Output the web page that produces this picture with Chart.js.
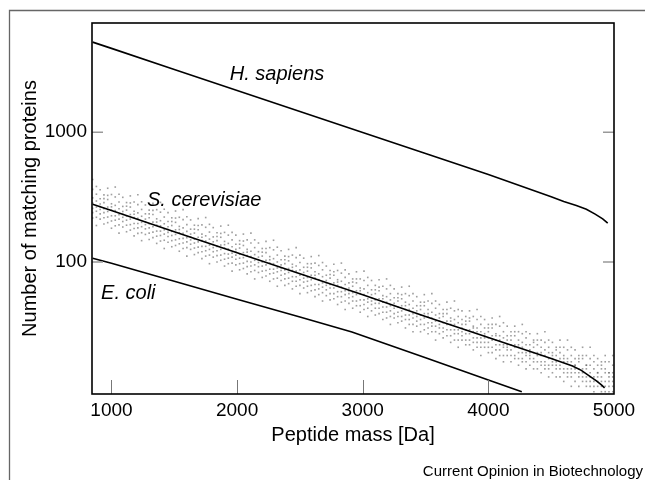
<!DOCTYPE html>
<html>
<head>
<meta charset="utf-8">
<script src="https://cdn.jsdelivr.net/npm/chart.js@4/dist/chart.umd.min.js"></script>
<style>
  html, body { margin: 0; padding: 0; background: #fff; }
  canvas { display: block; }
</style>
</head>
<body>
<canvas id="c" width="645" height="480"></canvas>
<script>
// ---------- data ----------
const massTicks = [1000, 2000, 3000, 4000, 5000];
const countTicks = [100, 1000];
const countTickLabels = ['100', '1000'];

const sapiensMass  = [850, 1000, 1500, 2000, 2500, 3000, 3500, 4000, 4500, 4600, 4700, 4780, 4850, 4910, 4950];
const sapiensCount = [4950, 4430, 3050, 2100, 1445, 995, 686, 472, 318, 292, 272, 255, 234, 215, 199];

const cerevisiaeMass  = [850, 1000, 1500, 2000, 2500, 3000, 3500, 4000, 4500, 4670, 4740, 4800, 4860, 4900, 4925];
const cerevisiaeCount = [279, 249, 171, 118, 81, 56, 38, 26.2, 18, 15.8, 14.6, 13.3, 12.1, 11.3, 10.7];

const coliMass  = [850, 1000, 1500, 2000, 2500, 2914, 3500, 4000, 4266];
const coliCount = [107, 97.7, 71, 51.6, 37.6, 28.9, 18.3, 12.3, 10.0];

// S. cerevisiae individual peptide counts, one row per mass: [mass, count, count, ...]
const cerevisiaeCloud = [
[850,363,312,285,259,240,218,432],[880,333,295,265,246,221,382,191],[910,360,307,280,254,235,214,267],
[940,329,287,258,240,219,196,308],[970,303,265,245,222,201,370,326],[1000,331,281,251,227,207,182,266],
[1030,317,273,249,227,210,190,378],[1060,290,257,231,214,193,333,167],[1090,315,268,245,221,205,186,233],
[1120,287,251,226,210,192,171,269],[1150,265,232,214,194,176,323,285],[1180,290,246,220,198,181,159,233],
[1210,277,239,217,198,183,166,330],[1240,254,225,202,187,168,291,146],[1270,275,235,214,194,180,163,204],
[1300,251,219,197,183,167,149,235],[1330,232,203,187,170,154,283,250],[1360,253,215,192,173,158,139,203],
[1390,242,208,190,173,160,145,288],[1420,222,197,177,164,147,255,127],[1450,240,205,187,169,157,142,178],
[1480,219,191,172,160,146,131,205],[1510,202,177,163,148,134,247,218],[1540,221,188,168,151,138,121,178],
[1570,212,183,166,152,140,127,253],[1600,194,172,154,143,129,223,111],[1630,211,179,164,148,137,125,156],
[1660,192,167,150,140,128,114,179],[1690,177,155,143,130,118,216,191],[1720,193,164,146,132,120,106,155],
[1750,185,159,145,132,122,111,220],[1780,170,150,135,125,113,195,97],[1810,184,156,143,129,120,109,136],
[1840,168,146,132,122,112,100,157],[1870,155,135,125,113,103,189,166],[1900,169,144,128,116,105,93,136],
[1930,161,139,126,115,107,97,192],[1960,148,131,117,109,98,169,85],[1990,161,137,125,113,105,95,119],
[2020,146,128,115,107,97,87,137],[2050,134,118,108,98,89,164,145],[2080,148,125,112,101,92,81,119],
[2110,140,121,110,100,93,84,167],[2140,129,114,103,95,86,148,74],[2170,140,120,109,99,92,83,104],
[2200,127,111,100,93,85,76,119],[2230,118,103,95,86,78,144,127],[2260,129,110,98,88,81,71,104],
[2290,124,106,97,88,82,74,147],[2320,113,100,90,84,75,130,65],[2350,122,104,95,86,79,72,90],
[2380,111,97,87,81,74,66,104],[2410,102,89,83,75,68,125,110],[2440,113,96,86,77,71,62,91],
[2470,108,93,85,77,71,65,129],[2500,99,87,79,73,66,113,57],[2530,107,91,83,75,70,63,79],
[2560,97,85,76,71,65,58,91],[2590,90,79,73,66,60,110,97],[2620,98,84,75,67,61,54,79],
[2650,94,81,73,67,62,56,112],[2680,87,77,69,64,58,99,50],[2710,93,79,72,66,61,55,69],
[2740,86,75,67,63,57,51,80],[2770,79,69,63,57,52,96,84],[2800,86,73,66,59,54,47,70],
[2830,82,71,64,59,54,49,98],[2860,76,67,60,56,50,87,43],[2890,81,69,63,57,53,48,60],
[2920,74,65,58,54,50,44,70],[2950,69,60,56,50,46,84,74],[2980,74,63,57,51,46,41,60],
[3010,72,62,56,51,47,43,85],[3040,66,58,52,49,44,76,38],[3070,72,61,56,50,47,42,53],
[3100,66,57,51,48,44,39,61],[3130,60,52,48,44,40,73,64],[3160,65,55,49,45,41,36,52],
[3190,62,54,49,45,41,37,74],[3220,57,51,46,42,38,66,33],[3250,62,53,48,44,40,37,46],
[3280,57,50,45,41,38,34,53],[3310,52,46,42,38,35,64,56],[3340,57,49,43,39,36,31,46],
[3370,55,47,43,39,36,33,65],[3400,50,44,40,37,33,57,29],[3430,54,46,42,38,35,32,40],
[3460,49,43,39,36,33,29,46],[3490,46,40,37,33,30,56,49],[3520,50,43,38,34,31,28,40],
[3550,48,41,37,34,32,29,57],[3580,44,39,35,32,29,50,25],[3610,47,40,37,33,31,28,35],
[3640,43,38,34,31,29,26,40],[3670,40,35,33,30,27,49,43],[3700,44,37,33,30,27,24,35],
[3730,42,36,33,30,28,25,50],[3760,38,34,30,28,25,43,22],[3790,42,36,33,29,27,25,31],
[3820,38,33,30,28,25,23,35],[3850,35,30,28,25,23,42,37],[3880,38,32,29,26,24,21,31],
[3910,36,31,29,26,24,22,43],[3940,33,29,26,24,22,38,19],[3970,36,31,28,26,24,22,27],
[4000,33,29,26,24,22,20,31],[4030,31,27,25,22,20,37,33],[4060,33,28,25,23,21,18,27],
[4090,32,27,25,23,21,19,38],[4120,29,26,23,22,19,34,17],[4150,32,27,25,22,21,19,23],
[4180,29,25,23,21,19,17,27],[4210,27,23,22,19,18,32,29],[4240,29,25,22,20,18,16,23],
[4270,28,24,22,20,18,17,33],[4300,26,23,20,19,17,29,15],[4330,28,23,21,19,18,16,20],
[4360,25,22,20,18,17,15,24],[4390,23,20,19,17,15,28,25],[4420,25,22,19,17,16,14,20],
[4450,24,21,19,17,16,15,29],[4480,22,20,18,16,15,25,13],[4510,24,20,19,17,16,14,18],
[4540,22,19,17,16,15,13,21],[4570,20,18,16,15,13,25,22],[4600,22,19,17,15,14,12,18],
[4630,21,18,17,15,14,13,25],[4660,19,17,15,14,13,22,11],[4690,21,18,16,15,14,12,16],
[4720,19,17,15,14,13,11,18],[4750,18,15,14,13,12,22,19],[4780,19,16,15,13,12,11,16],
[4810,18,16,14,13,12,11,22],[4840,17,15,13,12,11,19,10],[4870,18,16,14,13,12,11,14],
[4900,17,15,13,12,11,10,16],[4930,15,14,12,11,10,19,17],[4960,17,14,13,12,11,10,14],
[4990,16,14,13,12,11,10,19]
];

// ---------- build datasets ----------
const toPts = (xs, ys) => xs.map((x, i) => ({ x: x, y: ys[i] }));
const cloudPts = [];
cerevisiaeCloud.forEach(row => { for (let i = 1; i < row.length; i++) cloudPts.push({ x: row[0], y: row[i] }); });

const seriesLabels = [
  { text: 'H. sapiens', mass: 2318, count: 2794 },
  { text: 'S. cerevisiae', mass: 1738, count: 300 },
  { text: 'E. coli', mass: 1134, count: 56.8 }
];

const FONT = "'Liberation Sans', Arial, Helvetica, sans-serif";

const decor = {
  id: 'decor',
  beforeDraw(chart) {
    const c = chart.ctx;
    c.save();
    c.fillStyle = '#fff';
    c.fillRect(0, 0, chart.width, chart.height);
    c.restore();
  },
  afterDraw(chart) {
    const c = chart.ctx, a = chart.chartArea;
    const xs = chart.scales.x, ys = chart.scales.y;
    c.save();
    // outer frame
    c.strokeStyle = '#666';
    c.lineWidth = 1.3;
    c.beginPath();
    c.moveTo(645, 10.5); c.lineTo(9.5, 10.5); c.lineTo(9.5, 480);
    c.stroke();
    // inward ticks
    c.strokeStyle = '#999';
    c.lineWidth = 1.5;
    ys.ticks.forEach(t => {
      const y = ys.getPixelForValue(t.value);
      c.beginPath();
      c.moveTo(a.left, y); c.lineTo(a.left + 11, y);
      c.moveTo(a.right, y); c.lineTo(a.right - 11, y);
      c.stroke();
    });
    c.strokeStyle = '#777';
    c.lineWidth = 1;
    xs.ticks.forEach(t => {
      const x = Math.round(xs.getPixelForValue(t.value)) + 0.5;
      if (x > a.right - 2) return;
      c.beginPath();
      c.moveTo(x, a.bottom); c.lineTo(x, a.bottom - 14);
      c.stroke();
    });
    // plot border
    c.strokeStyle = '#000';
    c.lineWidth = 1.6;
    c.strokeRect(a.left, a.top, a.right - a.left, a.bottom - a.top);
    // series labels
    c.fillStyle = '#000';
    c.font = 'italic 20px ' + FONT;
    c.textAlign = 'center';
    c.textBaseline = 'middle';
    seriesLabels.forEach(l => {
      c.fillText(l.text, xs.getPixelForValue(l.mass), ys.getPixelForValue(l.count));
    });
    // credit
    c.font = '15px ' + FONT;
    c.textAlign = 'right';
    c.textBaseline = 'alphabetic';
    c.fillText('Current Opinion in Biotechnology', 643, 475.5);
    c.restore();
  }
};

new Chart(document.getElementById('c'), {
  type: 'line',
  data: {
    datasets: [
      { type: 'scatter', label: 'S. cerevisiae peptides', data: cloudPts, showLine: false,
        pointStyle: 'rect', pointRadius: 1.15, pointBorderWidth: 0, borderWidth: 0,
        borderColor: 'rgba(0,0,0,0)', backgroundColor: 'rgba(95,95,95,0.6)', order: 5 },
      { label: 'H. sapiens', data: toPts(sapiensMass, sapiensCount), borderColor: '#000', borderWidth: 1.6,
        pointRadius: 0, fill: false, tension: 0, order: 1 },
      { label: 'S. cerevisiae', data: toPts(cerevisiaeMass, cerevisiaeCount), borderColor: '#000', borderWidth: 1.6,
        pointRadius: 0, fill: false, tension: 0, order: 1 },
      { label: 'E. coli', data: toPts(coliMass, coliCount), borderColor: '#000', borderWidth: 1.6,
        pointRadius: 0, fill: false, tension: 0, order: 1 }
    ]
  },
  options: {
    responsive: false,
    animation: false,
    events: [],
    layout: { padding: { top: 23, right: 31, bottom: 24, left: 0 } },
    plugins: { legend: { display: false }, tooltip: { enabled: false } },
    scales: {
      x: {
        type: 'linear', min: 845, max: 5000,
        afterBuildTicks: s => { s.ticks = massTicks.map(v => ({ value: v })); },
        afterFit: s => { s.height = 62; },
        grid: { display: false, drawTicks: false },
        border: { display: false },
        ticks: { color: '#000', font: { family: FONT, size: 19 }, padding: 5, maxRotation: 0, autoSkip: false,
                 callback: v => String(v) },
        title: { display: true, text: 'Peptide mass [Da]', color: '#000', font: { family: FONT, size: 20 },
                 padding: { top: 0, bottom: 9 } }
      },
      y: {
        type: 'logarithmic', min: 9.6, max: 6950,
        afterBuildTicks: s => { s.ticks = countTicks.map(v => ({ value: v })); },
        afterFit: s => { s.width = 92; },
        grid: { display: false, drawTicks: false },
        border: { display: false },
        ticks: { color: '#000', font: { family: FONT, size: 19 }, padding: 5,
                 callback: (v) => { const i = countTicks.indexOf(v); return i >= 0 ? countTickLabels[i] : ''; } },
        title: { display: true, text: 'Number of matching proteins', color: '#000', font: { family: FONT, size: 20 },
                 padding: { top: 18, bottom: 0 } }
      }
    }
  },
  plugins: [decor]
});
</script>
</body>
</html>
